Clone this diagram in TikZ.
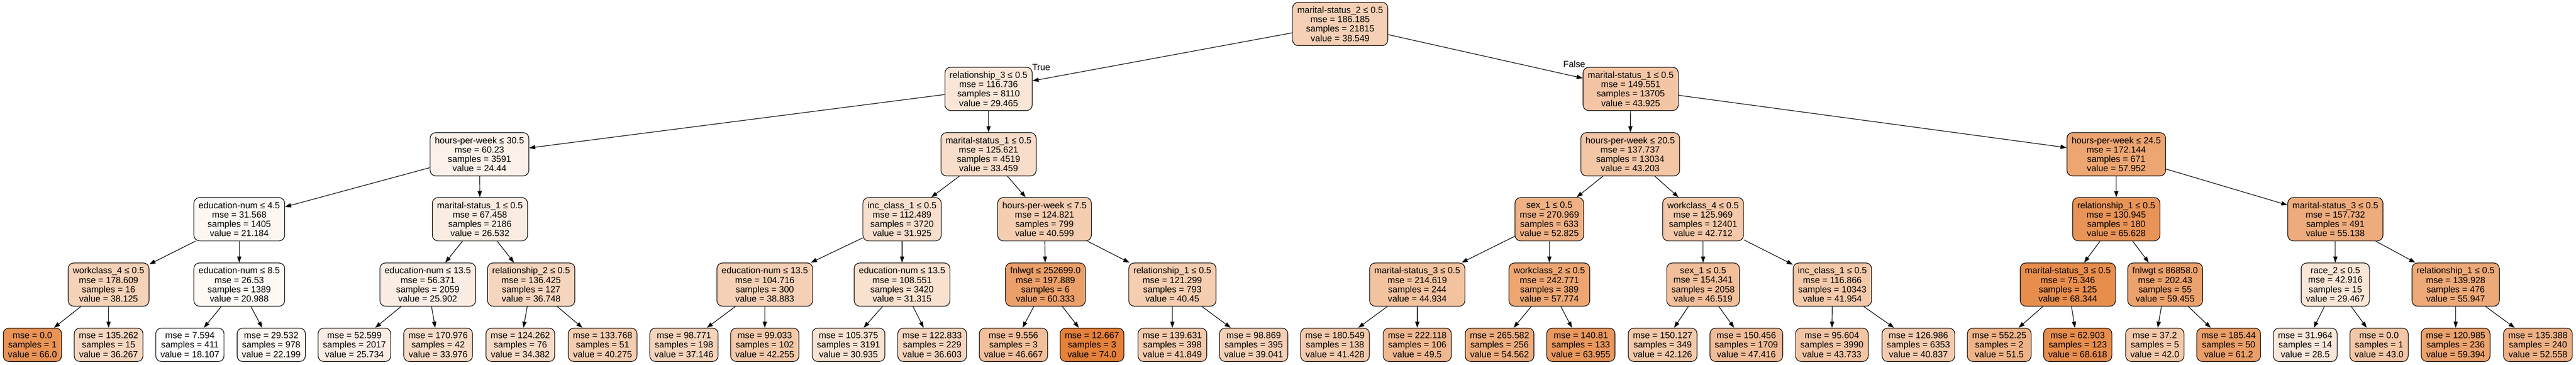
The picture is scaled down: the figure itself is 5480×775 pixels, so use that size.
\documentclass[tikz,border=0pt]{standalone}
\usepackage{fontspec}
\setmainfont{Liberation Sans}
\usetikzlibrary{arrows.meta}
\definecolor{tone}{RGB}{229,129,57}

\begin{document}
\begin{tikzpicture}[
    x=1pt, y=1pt,
    cond/.style={
        rectangle,
        rounded corners=12pt,
        minimum height=92pt,
        inner xsep=10pt,
        inner ysep=0pt,
        draw=black,
        line width=1.3pt,
        align=center,
        font=\fontsize{19}{20}\selectfont
    },
    leaf/.style={
        cond,
        minimum height=71pt
    },
    link/.style={
        -{Triangle[length=13pt,width=9pt]},
        line width=1.3pt
    },
    branchlbl/.style={
        font=\fontsize{19}{20}\selectfont
    }
]
\useasboundingbox (0,0) rectangle (5480,-775);

% Root
\node[cond, fill=tone!37] (root) at (2851,-51) {marital-status\_2 ≤ 0.5\\mse = 186.185\\samples = 21815\\value = 38.549};

% Level 1
\node[cond, fill=tone!20] (t) at (2103,-189) {relationship\_3 ≤ 0.5\\mse = 116.736\\samples = 8110\\value = 29.465};
\node[cond, fill=tone!46] (f) at (3469,-189) {marital-status\_1 ≤ 0.5\\mse = 149.551\\samples = 13705\\value = 43.925};

% Level 2
\node[cond, fill=tone!11] (tt) at (1020,-328) {hours-per-week ≤ 30.5\\mse = 60.23\\samples = 3591\\value = 24.44};
\node[cond, fill=tone!27] (tf) at (2103,-328) {marital-status\_1 ≤ 0.5\\mse = 125.621\\samples = 4519\\value = 33.459};
\node[cond, fill=tone!45] (ft) at (3468,-328) {hours-per-week ≤ 20.5\\mse = 137.737\\samples = 13034\\value = 43.203};
\node[cond, fill=tone!71] (ff) at (4502,-328) {hours-per-week ≤ 24.5\\mse = 172.144\\samples = 671\\value = 57.952};

% Level 3
\node[cond, fill=tone!6] (ttt) at (509,-466) {education-num ≤ 4.5\\mse = 31.568\\samples = 1405\\value = 21.184};
\node[cond, fill=tone!15] (ttf) at (1021,-466) {marital-status\_1 ≤ 0.5\\mse = 67.458\\samples = 2186\\value = 26.532};
\node[cond, fill=tone!25] (tft) at (1919,-466) {inc\_class\_1 ≤ 0.5\\mse = 112.489\\samples = 3720\\value = 31.925};
\node[cond, fill=tone!40] (tff) at (2222,-466) {hours-per-week ≤ 7.5\\mse = 124.821\\samples = 799\\value = 40.599};
\node[cond, fill=tone!62] (ftt) at (3296,-466) {sex\_1 ≤ 0.5\\mse = 270.969\\samples = 633\\value = 52.825};
\node[cond, fill=tone!44] (ftf) at (3623,-466) {workclass\_4 ≤ 0.5\\mse = 125.969\\samples = 12401\\value = 42.712};
\node[cond, fill=tone!85] (fft) at (4502,-466) {relationship\_1 ≤ 0.5\\mse = 130.945\\samples = 180\\value = 65.628};
\node[cond, fill=tone!66] (fff) at (4968,-466) {marital-status\_3 ≤ 0.5\\mse = 157.732\\samples = 491\\value = 55.138};

% Level 4
\node[cond, fill=tone!36] (tttt) at (231,-605) {workclass\_4 ≤ 0.5\\mse = 178.609\\samples = 16\\value = 38.125};
\node[cond, fill=tone!5] (tttf) at (509,-605) {education-num ≤ 8.5\\mse = 26.53\\samples = 1389\\value = 20.988};
\node[cond, fill=tone!14] (ttft) at (910,-605) {education-num ≤ 13.5\\mse = 56.371\\samples = 2059\\value = 25.902};
\node[cond, fill=tone!33] (ttff) at (1130,-605) {relationship\_2 ≤ 0.5\\mse = 136.425\\samples = 127\\value = 36.748};
\node[cond, fill=tone!37] (tftt) at (1627,-605) {education-num ≤ 13.5\\mse = 104.716\\samples = 300\\value = 38.883};
\node[cond, fill=tone!24] (tftf) at (1919,-605) {education-num ≤ 13.5\\mse = 108.551\\samples = 3420\\value = 31.315};
\node[cond, fill=tone!76] (tfft) at (2224,-605) {fnlwgt ≤ 252699.0\\mse = 197.889\\samples = 6\\value = 60.333};
\node[cond, fill=tone!40] (tfff) at (2494,-605) {relationship\_1 ≤ 0.5\\mse = 121.299\\samples = 793\\value = 40.45};
\node[cond, fill=tone!48] (fttt) at (3015,-605) {marital-status\_3 ≤ 0.5\\mse = 214.619\\samples = 244\\value = 44.934};
\node[cond, fill=tone!71] (fttf) at (3296,-605) {workclass\_2 ≤ 0.5\\mse = 242.771\\samples = 389\\value = 57.774};
\node[cond, fill=tone!51] (ftft) at (3623,-605) {sex\_1 ≤ 0.5\\mse = 154.341\\samples = 2058\\value = 46.519};
\node[cond, fill=tone!43] (ftff) at (3898,-605) {inc\_class\_1 ≤ 0.5\\mse = 116.866\\samples = 10343\\value = 41.954};
\node[cond, fill=tone!90] (fftt) at (4399,-605) {marital-status\_3 ≤ 0.5\\mse = 75.346\\samples = 125\\value = 68.344};
\node[cond, fill=tone!74] (fftf) at (4606,-605) {fnlwgt ≤ 86858.0\\mse = 202.43\\samples = 55\\value = 59.455};
\node[cond, fill=tone!20] (ffft) at (4968,-605) {race\_2 ≤ 0.5\\mse = 42.916\\samples = 15\\value = 29.467};
\node[cond, fill=tone!68] (ffff) at (5224,-605) {relationship\_1 ≤ 0.5\\mse = 139.928\\samples = 476\\value = 55.947};

% Leaves
\node[leaf, fill=tone!86] (ttttt) at (69,-733) {mse = 0.0\\samples = 1\\value = 66.0};
\node[leaf, fill=tone!32] (ttttf) at (231,-733) {mse = 135.262\\samples = 15\\value = 36.267};
\node[leaf, fill=tone!0] (tttft) at (404,-733) {mse = 7.594\\samples = 411\\value = 18.107};
\node[leaf, fill=tone!7] (tttff) at (577,-733) {mse = 29.532\\samples = 978\\value = 22.199};
\node[leaf, fill=tone!14] (ttftt) at (754,-733) {mse = 52.599\\samples = 2017\\value = 25.734};
\node[leaf, fill=tone!28] (ttftf) at (932,-733) {mse = 170.976\\samples = 42\\value = 33.976};
\node[leaf, fill=tone!29] (ttfft) at (1107,-733) {mse = 124.262\\samples = 76\\value = 34.382};
\node[leaf, fill=tone!40] (ttfff) at (1282,-733) {mse = 133.768\\samples = 51\\value = 40.275};
\node[leaf, fill=tone!34] (tfttt) at (1455,-733) {mse = 98.771\\samples = 198\\value = 37.146};
\node[leaf, fill=tone!43] (tfttf) at (1627,-733) {mse = 99.033\\samples = 102\\value = 42.255};
\node[leaf, fill=tone!23] (tftft) at (1805,-733) {mse = 105.375\\samples = 3191\\value = 30.935};
\node[leaf, fill=tone!33] (tftff) at (1983,-733) {mse = 122.833\\samples = 229\\value = 36.603};
\node[leaf, fill=tone!51] (tfftt) at (2156,-733) {mse = 9.556\\samples = 3\\value = 46.667};
\node[leaf, fill=tone!100] (tfftf) at (2323,-733) {mse = 12.667\\samples = 3\\value = 74.0};
\node[leaf, fill=tone!42] (tffft) at (2494,-733) {mse = 139.631\\samples = 398\\value = 41.849};
\node[leaf, fill=tone!37] (tffff) at (2667,-733) {mse = 98.869\\samples = 395\\value = 39.041};
\node[leaf, fill=tone!42] (ftttt) at (2840,-733) {mse = 180.549\\samples = 138\\value = 41.428};
\node[leaf, fill=tone!56] (ftttf) at (3015,-733) {mse = 222.118\\samples = 106\\value = 49.5};
\node[leaf, fill=tone!65] (fttft) at (3190,-733) {mse = 265.582\\samples = 256\\value = 54.562};
\node[leaf, fill=tone!82] (fttff) at (3363,-733) {mse = 140.81\\samples = 133\\value = 63.955};
\node[leaf, fill=tone!43] (ftftt) at (3537,-733) {mse = 150.127\\samples = 349\\value = 42.126};
\node[leaf, fill=tone!52] (ftftf) at (3715,-733) {mse = 150.456\\samples = 1709\\value = 47.416};
\node[leaf, fill=tone!46] (ftfft) at (3897,-733) {mse = 95.604\\samples = 3990\\value = 43.733};
\node[leaf, fill=tone!41] (ftfff) at (4081,-733) {mse = 126.986\\samples = 6353\\value = 40.837};
\node[leaf, fill=tone!60] (ffttt) at (4253,-733) {mse = 552.25\\samples = 2\\value = 51.5};
\node[leaf, fill=tone!90] (ffttf) at (4420,-733) {mse = 62.903\\samples = 123\\value = 68.618};
\node[leaf, fill=tone!43] (fftft) at (4584,-733) {mse = 37.2\\samples = 5\\value = 42.0};
\node[leaf, fill=tone!77] (fftff) at (4741,-733) {mse = 185.44\\samples = 50\\value = 61.2};
\node[leaf, fill=tone!19] (ffftt) at (4904,-733) {mse = 31.964\\samples = 14\\value = 28.5};
\node[leaf, fill=tone!45] (ffftf) at (5061,-733) {mse = 0.0\\samples = 1\\value = 43.0};
\node[leaf, fill=tone!74] (fffft) at (5224,-733) {mse = 120.985\\samples = 236\\value = 59.394};
\node[leaf, fill=tone!62] (fffff) at (5399,-733) {mse = 135.388\\samples = 240\\value = 52.558};

% Branch labels
\node[branchlbl] (truelbl) at (2215,-143) {True};
\node[branchlbl] (falselbl) at (3349,-136) {False};

% Arrows
\draw[link] (root) -- (t);
\draw[link] (root) -- (f);
\draw[link] (t) -- (tt);
\draw[link] (t) -- (tf);
\draw[link] (f) -- (ft);
\draw[link] (f) -- (ff);
\draw[link] (tt) -- (ttt);
\draw[link] (tt) -- (ttf);
\draw[link] (tf) -- (tft);
\draw[link] (tf) -- (tff);
\draw[link] (ft) -- (ftt);
\draw[link] (ft) -- (ftf);
\draw[link] (ff) -- (fft);
\draw[link] (ff) -- (fff);
\draw[link] (ttt) -- (tttt);
\draw[link] (ttt) -- (tttf);
\draw[link] (ttf) -- (ttft);
\draw[link] (ttf) -- (ttff);
\draw[link] (tft) -- (tftt);
\draw[link] (tft) -- (tftf);
\draw[link] (tff) -- (tfft);
\draw[link] (tff) -- (tfff);
\draw[link] (ftt) -- (fttt);
\draw[link] (ftt) -- (fttf);
\draw[link] (ftf) -- (ftft);
\draw[link] (ftf) -- (ftff);
\draw[link] (fft) -- (fftt);
\draw[link] (fft) -- (fftf);
\draw[link] (fff) -- (ffft);
\draw[link] (fff) -- (ffff);
\draw[link] (tttt) -- (ttttt);
\draw[link] (tttt) -- (ttttf);
\draw[link] (tttf) -- (tttft);
\draw[link] (tttf) -- (tttff);
\draw[link] (ttft) -- (ttftt);
\draw[link] (ttft) -- (ttftf);
\draw[link] (ttff) -- (ttfft);
\draw[link] (ttff) -- (ttfff);
\draw[link] (tftt) -- (tfttt);
\draw[link] (tftt) -- (tfttf);
\draw[link] (tftf) -- (tftft);
\draw[link] (tftf) -- (tftff);
\draw[link] (tfft) -- (tfftt);
\draw[link] (tfft) -- (tfftf);
\draw[link] (tfff) -- (tffft);
\draw[link] (tfff) -- (tffff);
\draw[link] (fttt) -- (ftttt);
\draw[link] (fttt) -- (ftttf);
\draw[link] (fttf) -- (fttft);
\draw[link] (fttf) -- (fttff);
\draw[link] (ftft) -- (ftftt);
\draw[link] (ftft) -- (ftftf);
\draw[link] (ftff) -- (ftfft);
\draw[link] (ftff) -- (ftfff);
\draw[link] (fftt) -- (ffttt);
\draw[link] (fftt) -- (ffttf);
\draw[link] (fftf) -- (fftft);
\draw[link] (fftf) -- (fftff);
\draw[link] (ffft) -- (ffftt);
\draw[link] (ffft) -- (ffftf);
\draw[link] (ffff) -- (fffft);
\draw[link] (ffff) -- (fffff);

\end{tikzpicture}
\end{document}
